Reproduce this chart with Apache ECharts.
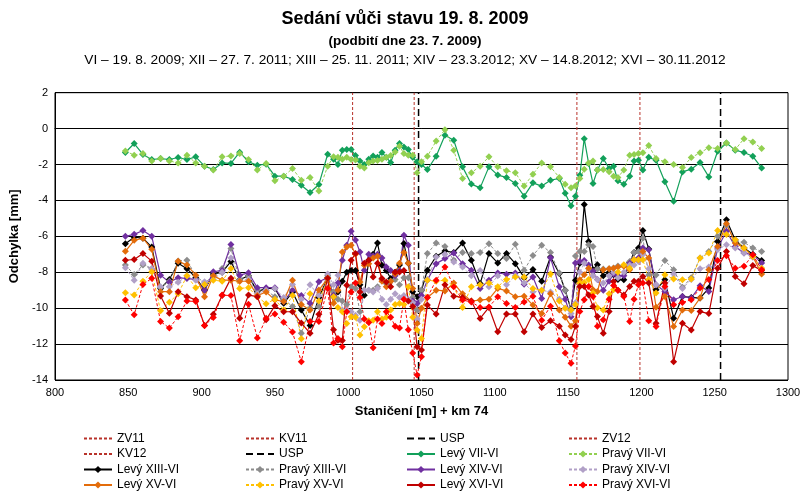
<!DOCTYPE html>
<html>
<head>
<meta charset="utf-8">
<script src="https://cdn.jsdelivr.net/npm/echarts@6/dist/echarts.min.js"></script>
<style>
html,body{margin:0;padding:0;background:#fff;}
#chart{width:810px;height:499px;}
</style>
</head>
<body>
<div id="chart"></div>
<script>
const FONT = "'Liberation Sans',Arial,sans-serif";

const stations = [
  848,854,860,866,872,878,884,890,896,902,908,914,920,926,932,938,944,950,956,962,968,974,980,986,
  990,993,996,999,1002,1005,1008,1011,1014,1017,1020,1023,1026,1029,1032,1035,1038,1041,1044,1047,
  1050,1054,1060,1066,1072,1078,1084,1090,1096,1102,1108,1114,1120,1126,1132,1138,1144,1148,1152,1155,
  1158,1161,1164,1167,1170,1174,1178,1181,1184,1188,1192,1195,1198,1201,1205,1210,
  1216,1222,1228,1234,1240,1246,1252,1258,1264,1270,1276,1282
];

const levyVII = [
  -1.33,-0.83,-1.44,-1.72,-1.67,-1.72,-1.61,-1.72,-1.57,-2.09,-2.28,-1.91,-1.94,-1.31,-1.85,-2.04,-1.98,-2.65,-2.65,-2.83,-3.15,-3.56,-3.11,-1.43,
  -1.7,-2.0,-1.2,-1.17,-1.17,-1.5,-1.8,-2.0,-1.7,-1.52,-1.6,-1.33,-1.6,-1.89,-1.2,-0.83,-1.02,-1.17,-1.6,-1.85,
  -2.0,-2.28,-1.54,-0.37,-0.65,-2.13,-3.09,-3.3,-2.13,-2.59,-2.72,-3.06,-3.76,-3.02,-3.2,-2.87,-2.78,-3.6,-4.3,-3.76,
  -2.6,-0.56,-1.94,-3.06,-2.31,-1.67,-2.22,-2.09,-2.91,-3.1,-2.65,-1.8,-1.76,-2.31,-1.6,-1.76,
  -2.96,-4.04,-2.41,-2.26,-1.89,-2.69,-1.26,-0.8,-1.2,-1.33,-1.54,-2.19
];
const pravyVII = [
  -1.24,-1.48,-1.39,-1.8,-1.67,-1.8,-1.91,-1.48,-1.91,-2.09,-2.31,-1.57,-1.52,-1.39,-1.72,-2.31,-1.94,-2.91,-2.65,-2.22,-2.87,-2.72,-3.48,-2.09,
  -1.57,-1.6,-1.7,-1.6,-1.72,-1.75,-2.1,-2.2,-1.9,-1.8,-1.78,-1.7,-1.6,-1.5,-1.3,-0.98,-1.39,-1.48,-1.48,-2.46,
  -1.85,-1.54,-0.69,-0.06,-1.2,-2.78,-2.46,-2.09,-1.57,-2.13,-2.35,-2.46,-3.2,-2.54,-1.91,-2.13,-2.72,-3.1,-3.3,-3.2,
  -2.78,-2.26,-1.91,-1.8,-2.31,-2.28,-2.4,-2.65,-2.72,-2.3,-1.48,-1.44,-1.39,-1.35,-0.94,-1.67,
  -1.85,-2.0,-2.17,-1.61,-1.35,-1.06,-1.11,-0.8,-1.17,-0.56,-0.74,-1.11
];
const levyXIII = [
  -6.41,-6.05,-6.1,-6.6,-8.9,-8.4,-7.5,-7.8,-8.3,-8.99,-8.1,-8.0,-7.4,-8.4,-8.2,-9.08,-8.9,-8.9,-9.73,-9.1,-10.1,-10.96,-9.41,-8.3,
  -9.36,-9.1,-8.5,-8.0,-7.9,-7.9,-8.7,-9.28,-7.33,-7.0,-6.37,-7.61,-7.9,-8.35,-8.0,-7.6,-6.4,-7.5,-9.09,-9.37,
  -9.0,-7.89,-7.11,-6.81,-6.9,-6.37,-7.33,-8.63,-6.96,-7.48,-6.96,-7.52,-8.3,-7.85,-8.5,-7.15,-8.07,-9.0,-10.07,-8.44,
  -7.5,-4.23,-6.28,-7.86,-7.58,-8.2,-8.0,-8.14,-8.4,-8.42,-7.45,-6.9,-6.65,-5.67,-6.7,-8.98,
  -8.42,-10.56,-9.35,-9.4,-9.44,-8.88,-6.28,-5.07,-6.2,-6.65,-7.0,-7.35
];
const pravyXIII = [
  -7.6,-8.12,-7.6,-7.8,-8.86,-8.5,-7.37,-7.33,-8.2,-8.6,-8.2,-7.79,-6.68,-8.4,-8.2,-9.0,-9.0,-9.36,-9.5,-9.91,-11.39,-10.0,-9.91,-8.2,
  -9.08,-9.5,-9.6,-9.8,-8.8,-8.91,-10.2,-9.0,-9.0,-9.0,-8.81,-8.4,-8.63,-8.5,-8.4,-8.7,-8.3,-8.3,-9.4,-10.1,
  -9.0,-6.96,-6.37,-6.56,-7.33,-6.9,-6.96,-6.9,-6.41,-6.96,-7.24,-6.44,-7.89,-7.06,-6.5,-6.9,-8.04,-9.0,-10.1,-7.1,
  -6.84,-6.84,-6.47,-6.56,-7.82,-7.82,-7.8,-7.76,-7.65,-7.63,-7.4,-6.9,-6.84,-6.1,-8.15,-8.15,
  -7.35,-7.86,-8.84,-8.3,-7.21,-6.84,-6.0,-5.4,-6.28,-6.33,-6.65,-6.84
];
const levyXIV = [
  -6.0,-5.89,-5.67,-6.0,-8.16,-8.56,-8.3,-8.35,-8.4,-9.0,-7.97,-7.9,-6.46,-8.16,-8.03,-8.86,-8.86,-8.86,-9.63,-9.0,-9.3,-9.73,-8.53,-8.3,
  -9.28,-8.6,-7.33,-6.5,-5.72,-6.2,-6.87,-7.89,-7.0,-7.1,-7.0,-7.2,-7.7,-7.9,-8.2,-7.9,-5.94,-6.5,-9.6,-9.74,
  -9.3,-8.44,-7.52,-7.24,-6.93,-7.52,-7.89,-8.91,-8.44,-8.04,-8.11,-8.04,-8.67,-8.26,-9.46,-7.19,-8.81,-9.5,-10.48,-7.48,
  -7.4,-7.35,-7.6,-7.95,-8.4,-9.0,-8.5,-8.1,-8.2,-8.2,-7.5,-7.3,-7.2,-6.65,-6.75,-8.7,
  -9.07,-9.53,-9.35,-9.44,-8.75,-9.07,-6.65,-5.72,-6.56,-6.93,-7.02,-7.49
];
const pravyXIV = [
  -7.75,-8.44,-7.5,-7.8,-8.8,-8.8,-8.56,-8.2,-8.44,-8.53,-8.4,-8.0,-7.2,-8.5,-8.4,-9.2,-9.0,-8.9,-9.4,-8.68,-9.5,-8.7,-9.3,-8.1,
  -8.7,-8.17,-10.1,-10.1,-10.2,-10.4,-10.67,-9.0,-9.0,-9.1,-8.9,-9.5,-9.8,-9.5,-9.2,-9.4,-9.3,-9.5,-9.7,-10.6,
  -9.5,-8.4,-7.15,-7.0,-7.43,-7.7,-8.2,-7.9,-8.8,-8.2,-8.7,-8.2,-8.6,-9.1,-9.0,-9.1,-9.5,-10.0,-10.3,-9.7,
  -8.0,-7.5,-7.8,-8.2,-8.4,-8.6,-8.2,-8.0,-8.3,-8.0,-7.6,-7.6,-7.4,-7.0,-7.8,-8.7,
  -8.9,-8.1,-8.9,-8.4,-7.8,-7.7,-6.75,-6.47,-6.65,-6.93,-7.16,-7.77
];
const levyXV = [
  -6.83,-6.22,-6.1,-6.72,-9.08,-9.08,-7.38,-7.6,-8.16,-9.36,-8.2,-8.44,-8.44,-8.5,-8.5,-9.3,-9.1,-9.54,-9.63,-8.44,-9.8,-10.1,-8.99,-8.34,
  -9.73,-9.0,-6.87,-6.6,-6.5,-7.0,-8.54,-7.61,-7.52,-7.2,-7.11,-8.5,-8.8,-8.5,-8.1,-7.5,-6.9,-7.5,-8.9,-10.85,
  -10.0,-9.41,-9.0,-9.04,-8.6,-9.2,-9.6,-9.55,-9.5,-8.9,-9.04,-9.37,-9.33,-9.83,-10.3,-9.2,-10.1,-10.5,-11.0,-10.7,
  -8.42,-8.14,-7.77,-8.98,-9.07,-7.86,-7.8,-7.77,-7.7,-7.67,-7.86,-7.3,-7.3,-6.84,-7.21,-9.95,
  -9.35,-11.02,-10.1,-10.13,-9.44,-7.86,-6.56,-5.3,-6.37,-6.65,-7.12,-8.09
];
const pravyXV = [
  -9.14,-9.27,-8.5,-7.97,-10.15,-9.67,-9.2,-8.2,-8.86,-8.68,-8.44,-8.5,-7.79,-8.9,-8.86,-9.36,-9.75,-9.5,-10.1,-9.3,-11.7,-9.2,-9.6,-8.34,
  -9.36,-9.96,-10.2,-10.85,-10.48,-10.5,-11.5,-11.04,-10.7,-10.67,-10.2,-10.6,-10.5,-10.1,-9.8,-9.74,-9.8,-8.8,-10.5,-11.22,
  -11.69,-8.44,-8.5,-8.44,-8.78,-9.96,-8.8,-8.7,-8.6,-8.8,-8.4,-8.26,-8.26,-8.9,-9.0,-8.1,-9.6,-10.0,-10.1,-9.8,
  -8.6,-8.57,-8.4,-9.16,-9.98,-10.1,-9.2,-8.98,-8.0,-7.58,-7.77,-7.3,-7.3,-7.3,-8.4,-9.16,
  -8.14,-8.38,-8.42,-8.38,-7.21,-6.93,-5.67,-5.9,-6.19,-6.65,-7.12,-7.77
];
const levyXVI = [
  -7.33,-7.29,-6.96,-7.38,-9.32,-10.28,-9.08,-9.36,-9.54,-10.96,-10.34,-9.3,-8.34,-10.56,-9.27,-9.36,-10.65,-9.86,-10.2,-10.2,-10.83,-11.39,-10.34,-8.34,
  -11.2,-11.78,-11.8,-8.72,-7.33,-6.96,-9.1,-7.5,-7.33,-8.26,-7.5,-8.35,-8.54,-8.8,-8.0,-7.98,-7.9,-9.6,-9.9,-12.15,
  -12.33,-9.83,-10.33,-8.7,-9.33,-9.4,-9.6,-10.57,-9.96,-11.31,-10.33,-10.33,-11.31,-10.33,-11.07,-10.7,-11.0,-11.5,-11.74,-11.0,
  -8.79,-8.79,-9.26,-9.9,-10.47,-11.4,-10.19,-8.51,-9.0,-9.26,-8.79,-8.5,-8.5,-8.23,-8.6,-10.84,
  -8.6,-12.98,-10.84,-11.21,-10.19,-10.3,-7.77,-6.84,-8.23,-8.64,-7.63,-7.9
];
const pravyXVI = [
  -9.54,-10.37,-8.68,-8.34,-10.74,-11.11,-10.48,-9.6,-9.63,-10.96,-10.52,-9.27,-9.3,-11.81,-9.78,-11.66,-10.56,-10.33,-10.78,-11.33,-12.99,-10.74,-10.74,-8.9,
  -11.94,-11.69,-12.15,-10.2,-9.1,-8.6,-9.4,-10.6,-10.8,-12.2,-10.6,-10.85,-10.2,-10.5,-11.0,-11.1,-9.5,-11.2,-12.5,-13.72,
  -12.7,-9.4,-8.44,-7.7,-8.8,-9.55,-9.65,-9.96,-9.93,-9.37,-9.74,-9.96,-9.65,-9.33,-10.67,-9.89,-11.81,-12.5,-13.07,-12.1,
  -10.19,-9.53,-8.79,-9.35,-11.0,-10.65,-9.5,-8.74,-9.0,-9.35,-10.74,-9.5,-8.7,-8.6,-10.7,-11.02,
  -8.79,-9.81,-9.68,-9.53,-8.88,-8.4,-7.35,-7.08,-7.77,-7.67,-7.02,-7.86
];

// vertical reference lines (station positions)
const refNames = ['ZV11','KV11','USP','ZV12','KV12','USP'];
const refPos   = [1003, 1045, 1048, 1156, 1199, 1254];
const refKind  = ['red','red','black','red','red','black'];

const xTicks = [800, 1300, 50];
const yTicks = [-14, 2, 2];

const seriesNames = ['Levý VII-VI','Pravý VII-VI','Levý XIII-VI','Pravý XIII-VI','Levý XIV-VI','Pravý XIV-VI','Levý XV-VI','Pravý XV-VI','Levý XVI-VI','Pravý XVI-VI'];
const seriesValues = [levyVII, pravyVII, levyXIII, pravyXIII, levyXIV, pravyXIV, levyXV, pravyXV, levyXVI, pravyXVI];
const seriesColors = ['#12A05A','#92D050','#000000','#8C8C8C','#7030A0','#B1A0C7','#E36C0A','#FFC000','#C00000','#FF0000'];
const seriesDashed = [false,true,false,true,false,true,false,true,false,true];

const RED_REF = '#B8322A';
const series = [];
refNames.forEach((n,i)=>{
  const red = refKind[i]==='red';
  series.push({
    name:n, type:'line', symbol:'diamond', symbolSize:0, showSymbol:false, silent:true,
    data:[[refPos[i], yTicks[0]],[refPos[i], yTicks[1]]],
    lineStyle:{color: red ? RED_REF : '#000', width: red ? 1 : 1.5, type: red ? [3,2] : [7,4]},
    itemStyle:{color: red ? RED_REF : '#000'}
  });
});
seriesNames.forEach((n,i)=>{
  series.push({
    name:n, type:'line', symbol:'diamond', symbolSize:7,
    data: stations.map((s,k)=>[s, seriesValues[i][k]]),
    lineStyle:{color:seriesColors[i], width: seriesDashed[i]?1:1.2, type: seriesDashed[i]?[3,2]:'solid'},
    itemStyle:{color:seriesColors[i]}
  });
});

const allNames = refNames.concat(seriesNames);
const legends = [];
const colLeft = [83, 245, 406, 568];
const rowMid = [438.5, 454, 469.5, 485];
allNames.forEach((n,i)=>{
  const r = Math.floor(i/4), c = i%4;
  const item = {name:n};
  if (i < refNames.length) item.itemStyle = {opacity:0};
  legends.push({
    left:colLeft[c], top:rowMid[r]-7, itemWidth:28, itemHeight:9, padding:0,
    data:[item], selectedMode:false,
    textStyle:{fontFamily:FONT, fontSize:12, color:'#000', lineHeight:14}
  });
});

const chart = echarts.init(document.getElementById('chart'), null, {renderer:'canvas'});
chart.setOption({
  animation:false,
  backgroundColor:'#fff',
  title:[
    {text:'Sedání vůči stavu 19. 8. 2009', left:'center', top:5, textStyle:{fontFamily:FONT, fontSize:18, fontWeight:'bold', color:'#000'}},
    {text:'(podbití dne 23. 7. 2009)', left:'center', top:29, textStyle:{fontFamily:FONT, fontSize:13.5, fontWeight:'bold', color:'#000'}},
    {text:'VI – 19. 8. 2009; XII – 27. 7. 2011; XIII – 25. 11. 2011; XIV – 23.3.2012; XV – 14.8.2012; XVI – 30.11.2012', left:'center', top:48, textStyle:{fontFamily:FONT, fontSize:13.7, fontWeight:'normal', color:'#000'}}
  ],
  legend: legends,
  grid:{left:55, right:22, top:92.7, bottom:119, show:true, borderColor:'#000', borderWidth:1, containLabel:false},
  xAxis:{
    type:'value', min:xTicks[0], max:xTicks[1], interval:xTicks[2],
    name:'Staničení [m] + km 74', nameLocation:'middle', nameGap:25,
    nameTextStyle:{fontFamily:FONT, fontSize:13, fontWeight:'bold', color:'#000'},
    axisLine:{show:true, lineStyle:{color:'#000', width:1}},
    axisTick:{show:false},
    axisLabel:{fontFamily:FONT, fontSize:11, color:'#000', margin:7, formatter:(v)=>String(v)},
    splitLine:{show:false}
  },
  yAxis:{
    type:'value', min:yTicks[0], max:yTicks[1], interval:yTicks[2],
    name:'Odchylka [mm]', nameLocation:'middle', nameGap:21, nameRotate:90,
    nameTextStyle:{fontFamily:FONT, fontSize:13, fontWeight:'bold', color:'#000'},
    axisLine:{show:true, lineStyle:{color:'#000', width:1}},
    axisTick:{show:false},
    axisLabel:{fontFamily:FONT, fontSize:11, color:'#000', margin:7, formatter:(v)=>String(v)},
    splitLine:{show:true, lineStyle:{color:'#000', width:1}}
  },
  series: series
});
</script>
</body>
</html>
